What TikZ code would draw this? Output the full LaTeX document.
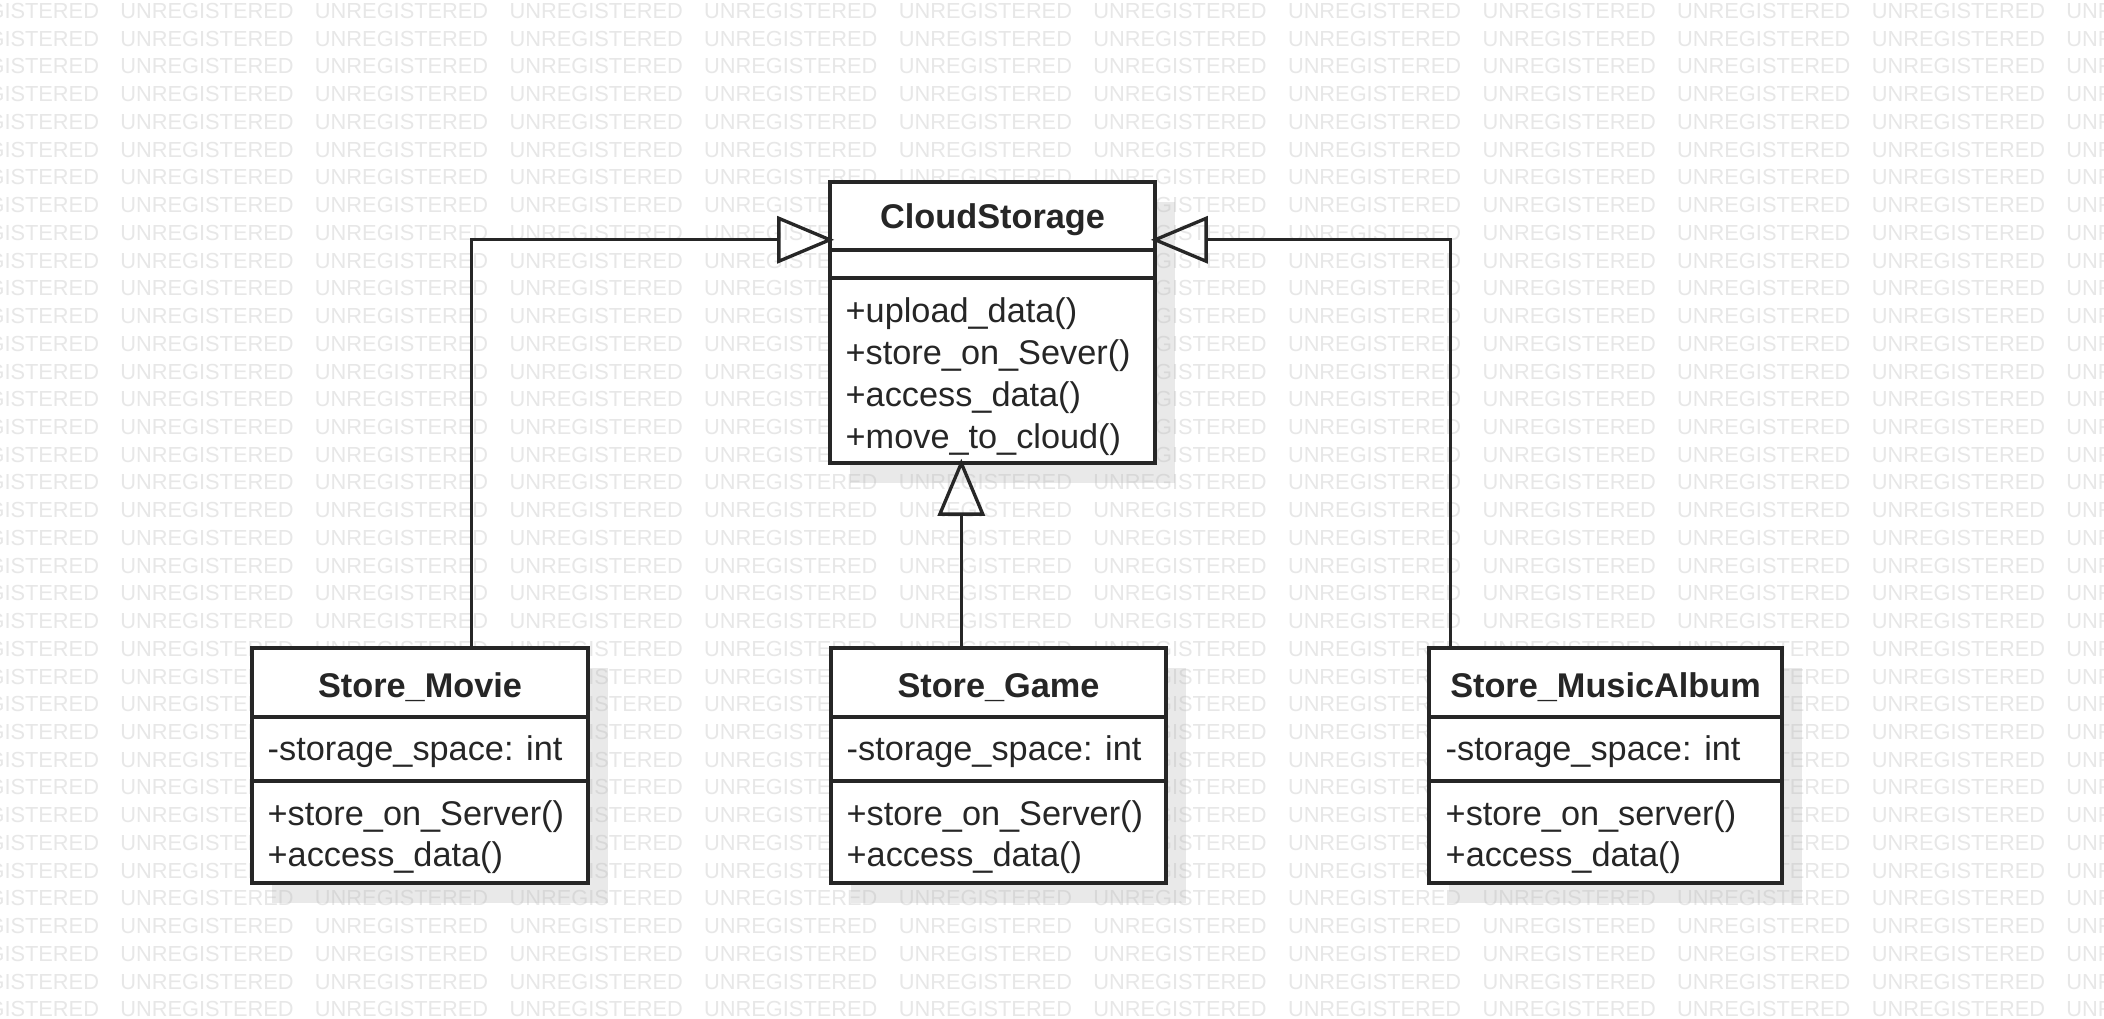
\documentclass[tikz,border=0pt]{standalone}
\usepackage{fontspec}
\setmainfont{Liberation Sans}
\usetikzlibrary{arrows.meta,shadows}
\definecolor{ink}{HTML}{262626}
\definecolor{wmark}{HTML}{E7E7E7}
\definecolor{shade}{HTML}{B8B8B8}

\begin{document}
\begin{tikzpicture}[x=0.01cm, y=-0.01cm,
  classbox/.style={rectangle, draw=ink, line width=0.95pt, fill=white, inner sep=0pt,
                   drop shadow={shadow xshift=0.2cm, shadow yshift=-0.2cm, fill=shade, opacity=0.3}},
  cname/.style={font=\fontsize{9.75}{11.7}\selectfont\bfseries, text=ink, anchor=base, inner sep=0pt},
  member/.style={font=\fontsize{9.75}{11.7}\selectfont, text=ink, anchor=base west, inner sep=0pt},
  sep/.style={draw=ink, line width=0.95pt},
  wm/.style={font=\fontsize{6.2}{7}\selectfont, text=wmark, inner sep=0pt},
  inherit/.style={draw=ink, line width=0.95pt, shorten >=-0.06cm,
                  -{Triangle[open, length=5.7mm, width=4.7mm]}},
]
\useasboundingbox (0,0) rectangle (2104,1018);
\fill[white] (0,0) rectangle (2104,1018);

% watermark
\foreach \r in {0,...,36}
  \foreach \c in {-1,...,10}
    \node[wm] (wm-\r-\c) at ({207+194.6*\c}, {11+27.73*\r}) {UNREGISTERED};

% base class
\node[classbox, minimum width=3.25cm, minimum height=2.81cm] (cloud) at (992.5,322.5) {};
\draw[sep] (cloud.west |- 0,250) -- (cloud.east |- 0,250);
\draw[sep] (cloud.west |- 0,278) -- (cloud.east |- 0,278);
\node[cname] (cloud-name) at (992.5,228) {CloudStorage};
\foreach \t [count=\i] in {+upload\_data(), +store\_on\_Sever(), +access\_data(), +move\_to\_cloud()}
  \node[member] (cloud-op\i) at (845, {322+42*(\i-1)}) {\t};

% subclasses
\node[classbox, minimum width=3.36cm, minimum height=2.35cm] (movie) at (420,765.5) {};
\draw[sep] (movie.west |- 0,717) -- (movie.east |- 0,717);
\draw[sep] (movie.west |- 0,781) -- (movie.east |- 0,781);
\node[cname] (movie-name) at (420,697) {Store\_Movie};
\node[member] (movie-attr) at (267,760) {-storage\_space: int};
\node[member] (movie-op1) at (267,825) {+store\_on\_Server()};
\node[member] (movie-op2) at (267,866) {+access\_data()};

\node[classbox, minimum width=3.35cm, minimum height=2.35cm] (game) at (998.5,765.5) {};
\draw[sep] (game.west |- 0,717) -- (game.east |- 0,717);
\draw[sep] (game.west |- 0,781) -- (game.east |- 0,781);
\node[cname] (game-name) at (998.5,697) {Store\_Game};
\node[member] (game-attr) at (846,760) {-storage\_space: int};
\node[member] (game-op1) at (846,825) {+store\_on\_Server()};
\node[member] (game-op2) at (846,866) {+access\_data()};

\node[classbox, minimum width=3.53cm, minimum height=2.35cm] (album) at (1605.5,765.5) {};
\draw[sep] (album.west |- 0,717) -- (album.east |- 0,717);
\draw[sep] (album.west |- 0,781) -- (album.east |- 0,781);
\node[cname] (album-name) at (1605.5,697) {Store\_MusicAlbum};
\node[member] (album-attr) at (1445,760) {-storage\_space: int};
\node[member] (album-op1) at (1445,825) {+store\_on\_server()};
\node[member] (album-op2) at (1445,866) {+access\_data()};

% generalisations
\coordinate (moviefoot) at ([xshift=2.21cm]movie.north west);
\coordinate (gamefoot) at ([xshift=1.32cm]game.north west);
\coordinate (albumfoot) at ([xshift=0.23cm]album.north west);
\coordinate (leftin) at ([yshift=-0.595cm]cloud.north west);
\coordinate (rightin) at ([yshift=-0.595cm]cloud.north east);
\draw[inherit] (moviefoot) |- (leftin);
\draw[inherit] (gamefoot) -- (gamefoot |- cloud.south);
\draw[inherit] (albumfoot) |- (rightin);
\end{tikzpicture}
\end{document}
